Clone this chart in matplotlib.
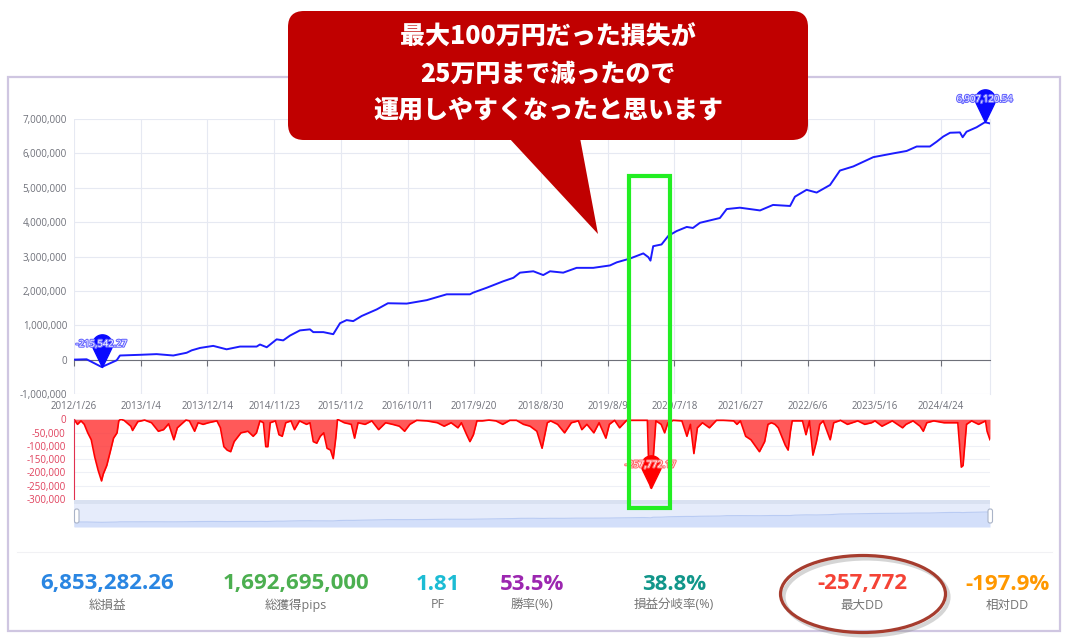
import numpy as np
import matplotlib
matplotlib.use('Agg')
import matplotlib.pyplot as plt
import matplotlib.patheffects as pe
from matplotlib.path import Path
from matplotlib.patches import FancyBboxPatch, Polygon, Rectangle, Ellipse
from matplotlib.transforms import Affine2D

plt.rcParams['font.family'] = ['Open Sans', 'Noto Sans CJK JP', 'DejaVu Sans']

# x axis: days since 2012/1/26, one label every 344 days
tick_labels = ['2012/1/26', '2013/1/4', '2013/12/14', '2014/11/23', '2015/11/2',
               '2016/10/11', '2017/9/20', '2018/8/30', '2019/8/9', '2020/7/18',
               '2021/6/27', '2022/6/6', '2023/5/16', '2024/4/24']
tick_step = 344
last_day = 4724

# equity curve (million yen)
eq_days = [0, 65, 143, 220, 237, 340, 426, 512, 581, 607,
           650, 718, 787, 856, 942, 959, 994, 1045, 1079, 1114,
           1165, 1217, 1234, 1286, 1337, 1372, 1406, 1440, 1484, 1561,
           1619, 1716, 1819, 1922, 2042, 2059, 2128, 2214, 2266, 2300,
           2369, 2420, 2455, 2523, 2592, 2678, 2764, 2799, 2867, 2936,
           2962, 2973, 2987, 3030, 3065, 3108, 3160, 3192, 3228, 3331,
           3366, 3434, 3538, 3605, 3693, 3718, 3778, 3830, 3899, 3950,
           4019, 4122, 4225, 4294, 4346, 4414, 4449, 4483, 4518, 4569,
           4583, 4603, 4655, 4698, 4724]
eq_mil = [0.00, 0.01, -0.21554227, -0.02, 0.12, 0.14, 0.16, 0.12, 0.20, 0.27,
          0.34, 0.40, 0.30, 0.38, 0.38, 0.44, 0.36, 0.59, 0.56, 0.70,
          0.85, 0.88, 0.80, 0.80, 0.74, 1.06, 1.15, 1.12, 1.27, 1.46,
          1.64, 1.63, 1.73, 1.90, 1.90, 1.95, 2.09, 2.28, 2.38, 2.53,
          2.57, 2.46, 2.57, 2.53, 2.67, 2.67, 2.74, 2.83, 2.94, 3.09,
          2.98, 2.88, 3.30, 3.35, 3.60, 3.74, 3.86, 3.83, 3.98, 4.12,
          4.38, 4.42, 4.34, 4.50, 4.47, 4.74, 4.94, 4.86, 5.08, 5.50,
          5.62, 5.89, 6.00, 6.07, 6.20, 6.20, 6.34, 6.49, 6.60, 6.61,
          6.47, 6.63, 6.76, 6.90712054, 6.87]

# drawdown (thousand yen)
dd_days = [0, 18, 36, 53, 71, 89, 107, 125, 142, 151,
           169, 187, 204, 222, 231, 240, 258, 293, 302, 329,
           364, 400, 435, 462, 488, 515, 533, 577, 595, 622,
           640, 666, 693, 737, 755, 773, 790, 808, 826, 861,
           897, 924, 941, 959, 977, 989, 1000, 1012, 1039, 1057,
           1074, 1092, 1119, 1137, 1163, 1199, 1217, 1234, 1252, 1270,
           1288, 1305, 1323, 1337, 1350, 1359, 1394, 1430, 1447, 1465,
           1501, 1536, 1571, 1607, 1643, 1678, 1705, 1732, 1767, 1820,
           1874, 1909, 1945, 1980, 1998, 2025, 2042, 2060, 2078, 2105,
           2140, 2176, 2211, 2247, 2282, 2318, 2352, 2387, 2414, 2441,
           2458, 2494, 2530, 2565, 2601, 2619, 2645, 2681, 2708, 2743,
           2761, 2788, 2814, 2850, 2885, 2939, 2957, 2962, 2974, 2989,
           3001, 3028, 3046, 3063, 3090, 3135, 3161, 3179, 3197, 3215,
           3241, 3277, 3313, 3348, 3402, 3419, 3437, 3464, 3491, 3535,
           3562, 3579, 3597, 3615, 3632, 3668, 3683, 3695, 3704, 3757,
           3775, 3793, 3811, 3829, 3846, 3864, 3900, 3918, 3953, 3989,
           4042, 4078, 4113, 4131, 4167, 4220, 4273, 4291, 4327, 4363,
           4380, 4398, 4434, 4487, 4558, 4576, 4585, 4603, 4629, 4665,
           4701, 4709, 4724]
dd_k = [0, -19, -6, -19, -51, -77, -142, -193, -232, -206,
        -174, -122, -71, -51, -6, 0, -4, -26, -42, -9,
        -3, -13, -45, -39, -17, -77, -32, -3, -6, -45,
        -13, -19, -13, -6, -32, -103, -116, -122, -84, -51,
        -45, -64, -51, -6, -13, -103, -103, -13, -6, -58,
        -64, -13, -6, -39, -6, -19, -13, -84, -90, -64,
        -51, -109, -116, -148, -71, 0, -13, -19, -71, -13,
        -19, -6, -39, -13, -19, -26, -45, -19, -4, -6,
        -13, -26, -13, -32, -13, -58, -84, -58, -6, -6,
        -3, -6, -19, -4, -4, -19, -26, -45, -109, -13,
        -6, -19, -51, -13, -6, -39, -19, -51, -13, -71,
        -19, -4, -32, -4, -4, -4, -4, -129, -257.77217, -129,
        -6, -19, -51, -13, -4, -6, -64, -19, -129, -32,
        -13, -32, -4, -4, -6, -19, -6, -64, -77, -122,
        -84, -19, -13, -19, -32, -97, -116, -45, -6, -6,
        -58, -6, -135, -84, -19, -6, -77, -13, -4, -19,
        -6, -19, -13, -6, -26, -6, -32, -19, -6, -26,
        -45, -13, -6, -13, -13, -180, -174, -19, -6, -19,
        -6, -45, -77]

stat_values = ['6,853,282.26', '1,692,695,000', '1.81', '53.5%', '38.8%', '-257,772', '-197.9%']
stat_labels = ['総損益', '総獲得pips', 'PF', '勝率(%)', '損益分岐率(%)', '最大DD', '相対DD']
stat_colors = ['#2a86e2', '#4caf50', '#1cbcd4', '#9c27b0', '#11968a', '#f44336', '#ff9800']
stat_x = [107, 296, 438, 532, 674, 862, 1007]

callout_lines = ['最大100万円だった損失が', '25万円まで減ったので', '運用しやすくなったと思います']

eq = np.array(eq_mil) * 1e6
dd = np.array(dd_k) * 1e3

W, H = 1071, 641
fig = plt.figure(figsize=(W / 100, H / 100), dpi=100)
px = Affine2D().scale(1 / W, -1 / H).translate(0, 1) + fig.transFigure


def box(l, t, r, b):
    return [l / W, 1 - b / H, (r - l) / W, (b - t) / H]


# pin marker like echarts markPoint (tip at the data point)
d = 2.3
a = np.degrees(np.arcsin(1 / d))
th = np.radians(np.linspace(-a, 180 + a, 60))
pv = np.column_stack([np.cos(th), d + np.sin(th)])
pv = np.vstack([pv, [0, 0], pv[0]])
pin = Path(pv, closed=True)

grid_c = '#e6e9f2'
lab_c = '#6e7079'
xt = np.arange(len(tick_labels)) * tick_step

# ---- equity chart
ax = fig.add_axes(box(74, 119, 990, 394))
ax.plot(eq_days, eq, color='#1c1cff', lw=1.4, zorder=3)
ax.set_xlim(0, last_day)
ax.set_ylim(-1e6, 7e6)
yt = np.arange(-1e6, 7.01e6, 1e6)
ax.set_yticks(yt, labels=[f'{int(v):,}' for v in yt])
ax.set_xticks(xt)
ax.grid(True, color=grid_c, lw=0.8)
ax.set_axisbelow(True)
for s in ['left', 'top']:
    ax.spines[s].set_visible(False)
ax.spines['right'].set_color(grid_c)
ax.spines['bottom'].set_position(('data', 0))
ax.spines['bottom'].set_color(lab_c)
ax.tick_params(axis='x', length=4, color=lab_c, labelbottom=False)
ax.tick_params(axis='y', length=0, pad=5, labelsize=7, labelcolor=lab_c)
sec = ax.secondary_xaxis(0.0)
sec.set_xticks(xt, labels=tick_labels)
sec.tick_params(length=0, pad=5, labelsize=7, labelcolor=lab_c)
sec.spines['bottom'].set_visible(False)

for i in [int(np.argmin(eq)), int(np.argmax(eq))]:
    ax.plot(eq_days[i], eq[i], marker=pin, ms=47, color='#0a0aff', ls='none', clip_on=False, zorder=5)
    ax.annotate(f'{eq[i]:,.2f}', (eq_days[i], eq[i]), xytext=(0, 16.5), textcoords='offset points',
                ha='center', va='center', fontsize=6.8, color='white', zorder=6,
                path_effects=[pe.withStroke(linewidth=1.6, foreground='#6a6aff')])

# ---- drawdown chart
ax2 = fig.add_axes(box(74, 419.3, 990, 499))
ax2.fill_between(dd_days, dd, 0, color='#ff3030', alpha=0.8, lw=0)
ax2.plot(dd_days, dd, color='#ff0000', lw=1.2)
ax2.set_xlim(0, last_day)
ax2.set_ylim(-300000, 0)
dt = np.arange(0, -300001, -50000)
ax2.set_yticks(dt, labels=[f'{int(v):,}' for v in dt])
ax2.set_xticks([])
ax2.grid(True, axis='y', color='#eef0f6', lw=0.8)
ax2.set_axisbelow(True)
for s in ['right', 'top', 'bottom']:
    ax2.spines[s].set_visible(False)
ax2.spines['left'].set_color('#e0304f')
ax2.tick_params(axis='y', length=0, pad=6, labelsize=7, labelcolor='#e0405c')
i = int(np.argmin(dd))
ax2.plot(dd_days[i], dd[i], marker=pin, ms=47, color='#ff0000', ls='none', clip_on=False, zorder=5)
ax2.annotate(f'{dd[i]:,.2f}', (dd_days[i], dd[i]), xytext=(0, 16.5), textcoords='offset points',
             ha='center', va='center', fontsize=6.8, color='white', zorder=6,
             path_effects=[pe.withStroke(linewidth=1.6, foreground='#ff7070')])

# ---- data zoom slider
ax3 = fig.add_axes(box(74, 500, 990, 527))
ax3.set_facecolor('#e6ecfb')
ax3.fill_between(eq_days, eq, -3.45e6, color='#d3dffa', lw=0)
ax3.plot(eq_days, eq, color='#b9cbf3', lw=0.8)
ax3.set_xlim(0, last_day)
ax3.set_ylim(-3.45e6, 15.2e6)
ax3.axhspan(12.5e6, 15.2e6, color='#d9e1f1', lw=0)
ax3.set_xticks([])
ax3.set_yticks([])
for s in ax3.spines.values():
    s.set_visible(False)
for hx in (74.5, 988):
    fig.add_artist(FancyBboxPatch((hx, 509), 4.5, 14, boxstyle='round,pad=0,rounding_size=2',
                                  transform=px, fc='white', ec='#aab4c8', lw=0.8, zorder=4))

# ---- stats row
fig.add_artist(plt.Line2D([17, 1052], [552, 552], transform=px, color='#f1f1f4', lw=0.8))
for x, v, lab, c in zip(stat_x, stat_values, stat_labels, stat_colors):
    fig.text(x, 584, v, transform=px, ha='center', va='center', fontsize=16,
             fontweight='bold', color=c)
    fig.text(x, 605, lab, transform=px, ha='center', va='center', fontsize=9, color='#747474')

# ---- frame and annotations
fig.add_artist(Rectangle((8, 77), 1052, 554, transform=px, fill=False, ec='#cfc6e1', lw=1.6, zorder=1))
fig.add_artist(Rectangle((629, 176), 41, 332, transform=px, fill=False, ec='#22ee22', lw=3, zorder=7))
fig.add_artist(Ellipse((866, 597), 165, 77, transform=px, fill=False, ec='#888888', alpha=0.35, lw=3, zorder=7))
fig.add_artist(Ellipse((863, 594), 165, 77, transform=px, fill=False, ec='#a63c2e', lw=2.3, zorder=8))

fig.add_artist(FancyBboxPatch((288, 11), 520, 129, boxstyle='round,pad=0,rounding_size=16',
                              transform=px, fc='#c00000', ec='none', zorder=9))
fig.add_artist(Polygon([(509, 138), (580, 138), (598, 234)], closed=True, transform=px,
                       fc='#c00000', ec='none', zorder=9))
for k, line in enumerate(callout_lines):
    fig.text(548, 37 + k * 36.5, line, transform=px, ha='center', va='center', fontsize=18,
             fontweight='black', color='white', family=['Noto Sans CJK JP'], zorder=10)

fig.savefig('out.png', dpi=100)
